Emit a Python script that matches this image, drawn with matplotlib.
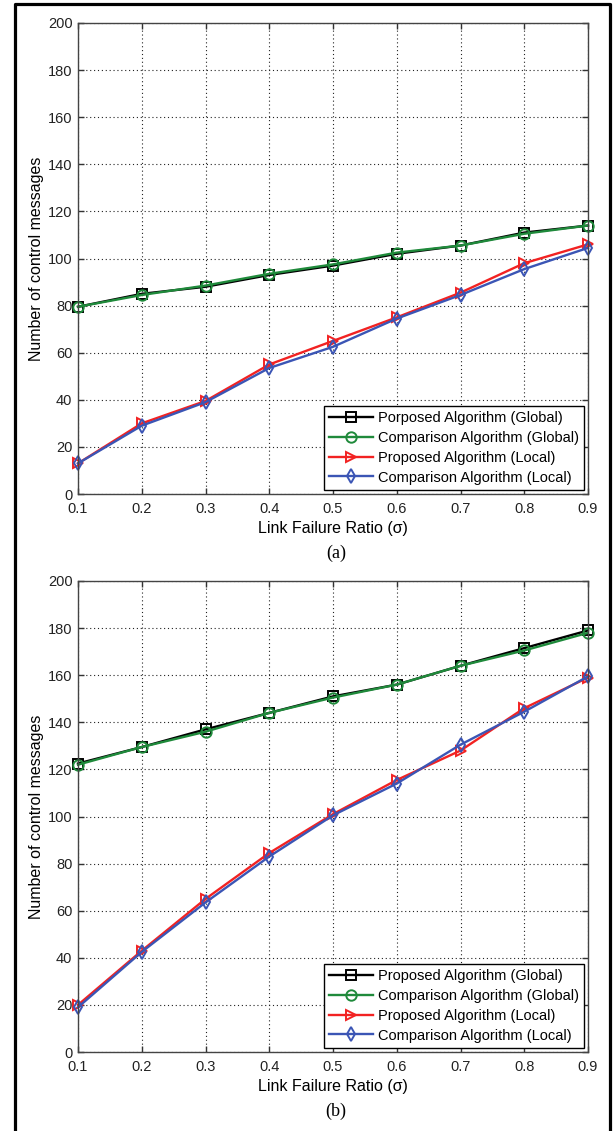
import matplotlib.pyplot as plt
from matplotlib.lines import Line2D

# link failure ratio (sigma)
ratio = [0.1, 0.2, 0.3, 0.4, 0.5, 0.6, 0.7, 0.8, 0.9]

# (a)
a_prop_global = [79.5, 85, 88, 93, 97, 102, 105.5, 111, 114]
a_comp_global = [79.5, 84.5, 88.5, 93.5, 97.5, 102.5, 105.5, 110.5, 114]
a_prop_local = [13, 30, 39.5, 55, 65, 75, 85.5, 98, 106]
a_comp_local = [13, 29, 39, 53.5, 62.5, 74.5, 84.5, 95.5, 104.5]

# (b)
b_prop_global = [122.5, 129.5, 137, 144, 151, 156, 164, 171.5, 179]
b_comp_global = [122, 129.5, 136, 144, 150.5, 156, 164, 170.5, 178]
b_prop_local = [20, 43, 65, 84.5, 101, 115.5, 128, 146, 159]
b_comp_local = [19, 42.5, 63.5, 83, 100.5, 114, 130.5, 144.5, 159.5]

labels_a = ["Porposed Algorithm (Global)", "Comparison Algorithm (Global)",
            "Proposed Algorithm (Local)", "Comparison Algorithm (Local)"]
labels_b = ["Proposed Algorithm (Global)", "Comparison Algorithm (Global)",
            "Proposed Algorithm (Local)", "Comparison Algorithm (Local)"]

y_ticks = list(range(0, 201, 20))

plt.rcParams['font.family'] = ['Liberation Sans', 'DejaVu Sans']

W, H = 613, 1131
fig = plt.figure(figsize=(W / 100, H / 100), dpi=100)


def box(left, top, right, bottom):
    # pixel box -> figure fraction
    return [left / W, 1 - bottom / H, (right - left) / W, (bottom - top) / H]


styles = [
    dict(color='black', marker='s'),
    dict(color='#1f8a3b', marker='o'),
    dict(color='#f22222', marker='>'),
    dict(color='#3b55b5', marker='d'),
]


def draw_panel(rect, series, labels, caption, xlab_y, cap_y):
    ax = fig.add_axes(box(*rect))
    for vals, st, lab in zip(series, styles, labels):
        ax.plot(ratio, vals, color=st['color'], marker=st['marker'], lw=1.7,
                markersize=7.5, markerfacecolor='none', markeredgewidth=1.4,
                label=lab, clip_on=False)
    ax.set_xlim(0.1, 0.9)
    ax.set_ylim(0, 200)
    ax.set_xticks(ratio)
    ax.set_xticklabels([str(r) for r in ratio])
    ax.set_yticks(y_ticks)
    ax.grid(True, linestyle=(0, (1, 2.5)), color='#222222', linewidth=0.8)
    ax.tick_params(direction='in', length=4, width=1, top=True, right=True,
                   labelsize=10.5, colors='#333333', labelcolor='#222222')
    ax.tick_params(axis='x', pad=5.5)
    ax.tick_params(axis='y', pad=4)
    for sp in ax.spines.values():
        sp.set_color('#444444')
        sp.set_linewidth(1)
    leg = ax.legend(loc='lower right', fontsize=10.5, handlelength=3.0,
                    handletextpad=0.3, labelspacing=0.4, borderaxespad=0.3,
                    borderpad=0.35, fancybox=False, framealpha=1)
    leg.get_frame().set_edgecolor('black')
    leg.get_frame().set_linewidth(1)
    left, top, right, bottom = rect
    mid = (left + right) / 2
    fig.text(mid / W, 1 - xlab_y / H, u"Link Failure Ratio (\u03c3)",
             ha='center', va='center', fontsize=11.5)
    fig.text(37 / W, 1 - ((top + bottom) / 2) / H, "Number of control messages",
             ha='center', va='center', rotation=90, fontsize=11.5)
    fig.text((mid + 3) / W, 1 - cap_y / H, caption, ha='center', va='center',
             fontsize=13, family='Liberation Serif')
    return ax


draw_panel((78, 23, 588, 494),
           [a_prop_global, a_comp_global, a_prop_local, a_comp_local],
           labels_a, "(a)", 529, 553)
draw_panel((78, 581, 588, 1052),
           [b_prop_global, b_comp_global, b_prop_local, b_comp_local],
           labels_b, "(b)", 1087, 1111)

# outer frame (no bottom edge)
xs = [14.5 / W, 14.5 / W, 610 / W, 610 / W]
ys = [0, 1 - 4 / H, 1 - 4 / H, 0]
fig.add_artist(Line2D(xs, ys, color='black', lw=2.3, transform=fig.transFigure))

fig.savefig('out.png', dpi=100)
